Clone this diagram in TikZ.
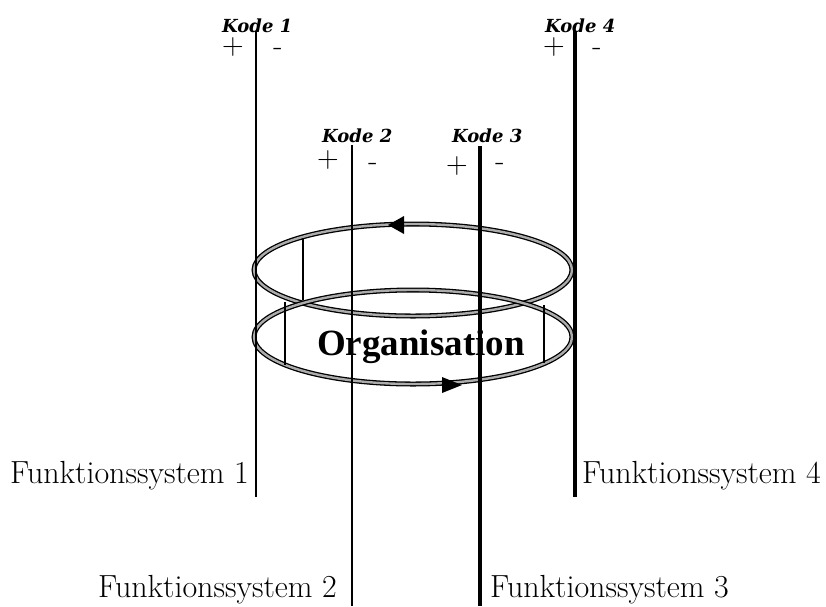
\documentclass[tikz,border=0pt]{standalone}
\usepackage{fontspec}
\newfontfamily\kodefont{DejaVu Serif}
\newfontfamily\orgfont{Liberation Serif}
\begin{document}
\begin{tikzpicture}[x=1pt,y=-1pt,
  thinsys/.style={line width=1.6pt},
  thicksys/.style={line width=4pt},
  ring/.style={draw=black, line width=1.3pt, double=gray!65, double distance=2.4pt},
  wall/.style={line width=1.3pt},
  kode/.style={font=\kodefont\bfseries\itshape\fontsize{18}{20}\selectfont, inner sep=0pt, text depth=0pt, anchor=base west},
  sign/.style={font=\fontsize{30}{32}\selectfont, inner sep=0pt, text height=0.55em, text depth=0pt, anchor=base},
  sysname/.style={font=\fontsize{32}{34}\selectfont, inner sep=0pt, anchor=base west},
  orgname/.style={font=\orgfont\bfseries\fontsize{37}{39}\selectfont, inner sep=0pt, anchor=base},
]
\useasboundingbox (0,0) rectangle (826,606);

% the two rings of the organisation
\draw[ring] (413,270) ellipse [x radius=159pt, y radius=46pt];
\draw[ring] (413,337) ellipse [x radius=159pt, y radius=47pt];

% side walls inside the rings
\draw[wall] (303,238) -- (303,300);
\draw[wall] (285,302) -- (285,365);
\draw[wall] (544,305) -- (544,363);

% direction of circulation
\fill (388,225) -- (404,216) -- (404,234) -- cycle;
\fill (462,385) -- (442,377) -- (442,393) -- cycle;

\node[orgname] (org) at (421,355) {Organisation};

% codes with their two values
\node[kode] (k1) at (222,32) {Kode 1};
\node[sign] (k1p) at (233,54) {+};
\node[sign] (k1m) at (278,55) {-};

\node[kode] (k4) at (545,32) {Kode 4};
\node[sign] (k4p) at (554,54) {+};
\node[sign] (k4m) at (597,55) {-};

\node[kode] (k2) at (322,142) {Kode 2};
\node[sign] (k2p) at (328,167) {+};
\node[sign] (k2m) at (373,170) {-};

\node[kode] (k3) at (452,142) {Kode 3};
\node[sign] (k3p) at (457,173) {+};
\node[sign] (k3m) at (500,170) {-};

% function systems
\node[sysname] (f1) at (10,483) {Funktionssystem 1};
\node[sysname] (f4) at (582,483) {Funktionssystem 4};
\node[sysname] (f2) at (98,597) {Funktionssystem 2};
\node[sysname] (f3) at (490,597) {Funktionssystem 3};

\coordinate (s1top) at (256,31);  \coordinate (s1bot) at (256,497);
\coordinate (s2top) at (352,145); \coordinate (s2bot) at (352,606);
\coordinate (s3top) at (480,146); \coordinate (s3bot) at (480,606);
\coordinate (s4top) at (575,31);  \coordinate (s4bot) at (575,497);

\draw[thinsys]  (s1top) -- (s1bot);
\draw[thinsys]  (s2top) -- (s2bot);
\draw[thicksys] (s3top) -- (s3bot);
\draw[thicksys] (s4top) -- (s4bot);
\end{tikzpicture}
\end{document}
